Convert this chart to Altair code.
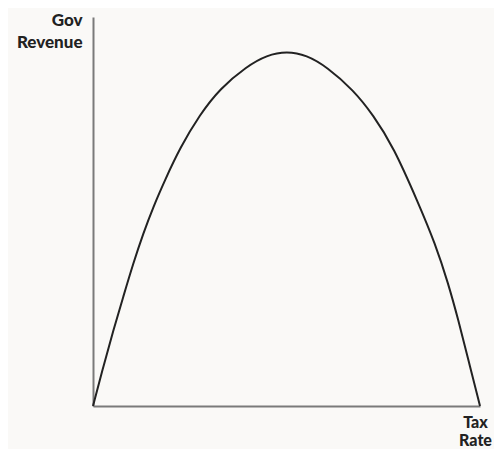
import altair as alt
import pandas as pd

tax_rate = [0, 2.66, 5.25, 7.83, 10.41, 13.0, 15.58, 18.6, 22.5, 27.6, 32.8, 39.7, 44.9,
            50.1, 55.2, 60.4, 67.3, 72.4, 77.6, 84.1, 88.4, 91.8, 94.4, 97.0, 100]
revenue = [0, 10.1, 19.5, 28.1, 36.7, 44.4, 51.2, 58.1, 66.4, 74.9, 81.6, 87.3, 90.2,
           91.2, 90.2, 87.2, 81.2, 74.8, 66.7, 52.1, 41.8, 31.5, 22.1, 11.8, 0]

df = pd.DataFrame({"tax": tax_rate, "rev": revenue})

FONT = "Lato"
TXT = "#222222"

chart = alt.Chart(df).mark_line(
    color="#222222", strokeWidth=2, interpolate="basis"
).encode(
    x=alt.X("tax:Q", scale=alt.Scale(domain=[0, 100], nice=False, zero=False),
            axis=alt.Axis(title=["Tax", "Rate"], labels=False, ticks=False, grid=False,
                          domainColor="#7a7a7a", domainWidth=2,
                          titleAlign="center", titleBaseline="alphabetic",
                          titleX=382, titleY=21, titleLineHeight=18,
                          titleFont=FONT, titleFontSize=16, titleFontWeight=900,
                          titleColor=TXT)),
    y=alt.Y("rev:Q", scale=alt.Scale(domain=[0, 100], nice=False),
            axis=alt.Axis(title=["Gov", "Revenue"], labels=False, ticks=False, grid=False,
                          domainColor="#7a7a7a", domainWidth=2,
                          titleAngle=0, titleAlign="right", titleBaseline="alphabetic",
                          titleX=-11, titleY=8, titleLineHeight=22,
                          titleFont=FONT, titleFontSize=17, titleFontWeight=900,
                          titleColor=TXT)),
).properties(
    width=387, height=389,
    background="#faf9f7",
    padding={"left": 85, "top": 9, "right": 14, "bottom": 45},
    autosize=alt.AutoSizeParams(type="none"),
).configure_view(stroke=None)

chart.save("out.html", embed_options={"renderer": "svg", "actions": False})
